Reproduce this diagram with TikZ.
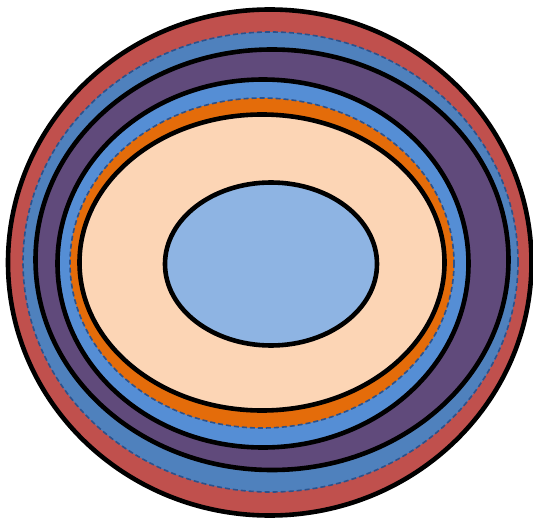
\documentclass[tikz,border=0pt]{standalone}
\usepackage{xcolor}
\usepackage{tikz}
\usetikzlibrary{backgrounds}
\definecolor{ringred}{RGB}{192,80,77}
\definecolor{ringblue}{RGB}{79,129,189}
\definecolor{ringpurple}{RGB}{96,74,123}
\definecolor{ringsky}{RGB}{85,142,213}
\definecolor{ringorange}{RGB}{228,108,10}
\definecolor{ringpeach}{RGB}{252,213,181}
\definecolor{corefill}{RGB}{142,180,227}
\definecolor{dashblue}{RGB}{44,82,140}
\tikzset{
    solidring/.style={draw=black, line width=4.6pt},
    dashring/.style={draw=dashblue, line width=1.6pt, dash pattern=on 5pt off 3pt},
}

\begin{document}
\begin{tikzpicture}[x=1pt, y=-1pt]
        \useasboundingbox (0,0) rectangle (533,519);
        \filldraw[solidring, fill=ringred] (269.75,262.5) ellipse [x radius=261.75, y radius=253];
        \filldraw[dashring, fill=ringblue] (270.5,262) ellipse [x radius=247.5, y radius=230];
        \filldraw[solidring, fill=ringpurple] (272,259.75) ellipse [x radius=236.5, y radius=210.25];
        \filldraw[solidring, fill=ringsky] (263,263.5) ellipse [x radius=205.5, y radius=184];
        \filldraw[dashring, fill=ringorange] (262,263) ellipse [x radius=192, y radius=165];
        \filldraw[solidring, fill=ringpeach] (262,262.5) ellipse [x radius=182.5, y radius=148];
        \filldraw[solidring, fill=corefill] (271,264) ellipse [x radius=106, y radius=81.5];
    \end{tikzpicture}
\end{document}
